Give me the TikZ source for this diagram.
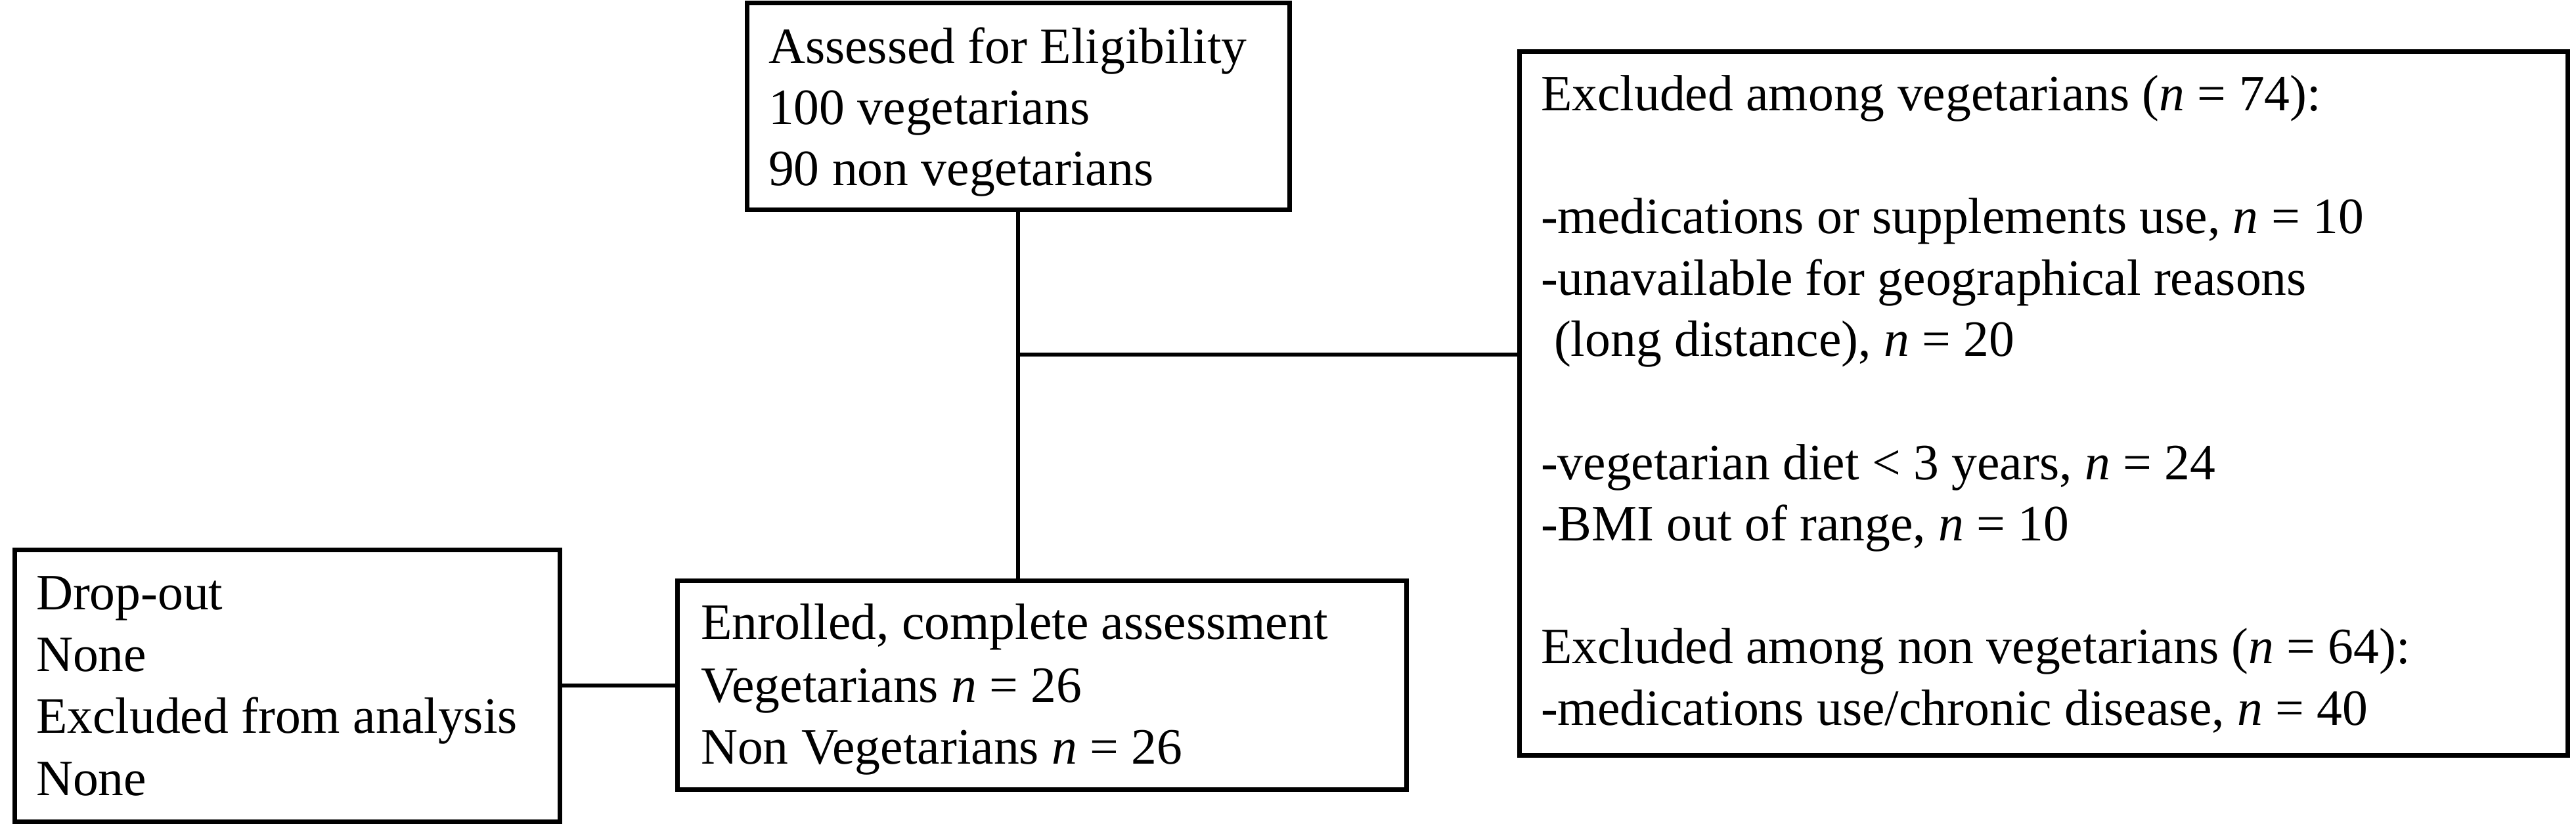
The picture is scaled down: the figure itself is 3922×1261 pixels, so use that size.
\documentclass[tikz,border=0pt]{standalone}
\usepackage{fontspec}
\setmainfont{Liberation Serif}
\usetikzlibrary{fit}
\begin{document}
\begin{tikzpicture}[x=0.25pt,y=-0.25pt,
  box/.style={draw=black, line width=1.75pt, inner sep=0pt, outer sep=0pt, rectangle},
  txt/.style={anchor=base west, inner sep=0pt, outer sep=0pt, font=\fontsize{19.4pt}{23.3pt}\selectfont},
  link/.style={draw=black, line width=1.65pt}]
\useasboundingbox (0,0) rectangle (3922,1261);
% box corners
\coordinate (a1) at (1137,5);   \coordinate (a2) at (1963,320);
\coordinate (b1) at (2313,79);  \coordinate (b2) at (3909,1150);
\coordinate (c1) at (22,837);   \coordinate (c2) at (852,1251);
\coordinate (d1) at (1031,884); \coordinate (d2) at (2141,1202);
\node[box, fit=(a1)(a2)] (top) {};
\node[box, fit=(b1)(b2)] (excl) {};
\node[box, fit=(c1)(c2)] (drop) {};
\node[box, fit=(d1)(d2)] (enr) {};
% connectors
\coordinate (j) at (1550,540);
\draw[link] (top.south) -- (top.south |- enr.north);
\draw[link] (j) -- (j -| excl.west);
\draw[link] (drop.east) -- (drop.east -| enr.west);
% texts
\node[txt] (t1) at (1170,97) {Assessed for Eligibility};
\node[txt] (t2) at (1170,190) {100 vegetarians};
\node[txt] (t3) at (1170,283) {90 non vegetarians};
\node[txt] (e1) at (2346,169) {Excluded among vegetarians (\textit{n} = 74):};
\node[txt] (e2) at (2346,356) {-medications or supplements use, \textit{n} = 10};
\node[txt] (e3) at (2346,449.5) {-unavailable for geographical reasons};
\node[txt] (e4) at (2366,543) {(long distance), \textit{n} = 20};
\node[txt] (e5) at (2346,730) {-vegetarian diet < 3 years, \textit{n} = 24};
\node[txt] (e6) at (2346,823.5) {-BMI out of range, \textit{n} = 10};
\node[txt] (e7) at (2346,1010.5) {Excluded among non vegetarians (\textit{n} = 64):};
\node[txt] (e8) at (2346,1104) {-medications use/chronic disease, \textit{n} = 40};
\node[txt] (l1) at (55,928) {Drop-out};
\node[txt] (l2) at (55,1022) {None};
\node[txt] (l3) at (55,1116) {Excluded from analysis};
\node[txt] (l4) at (55,1211) {None};
\node[txt] (m1) at (1067,973) {Enrolled, complete assessment};
\node[txt] (m2) at (1067,1069) {Vegetarians \textit{n} = 26};
\node[txt] (m3) at (1067,1163) {Non Vegetarians \textit{n} = 26};
\end{tikzpicture}
\end{document}
